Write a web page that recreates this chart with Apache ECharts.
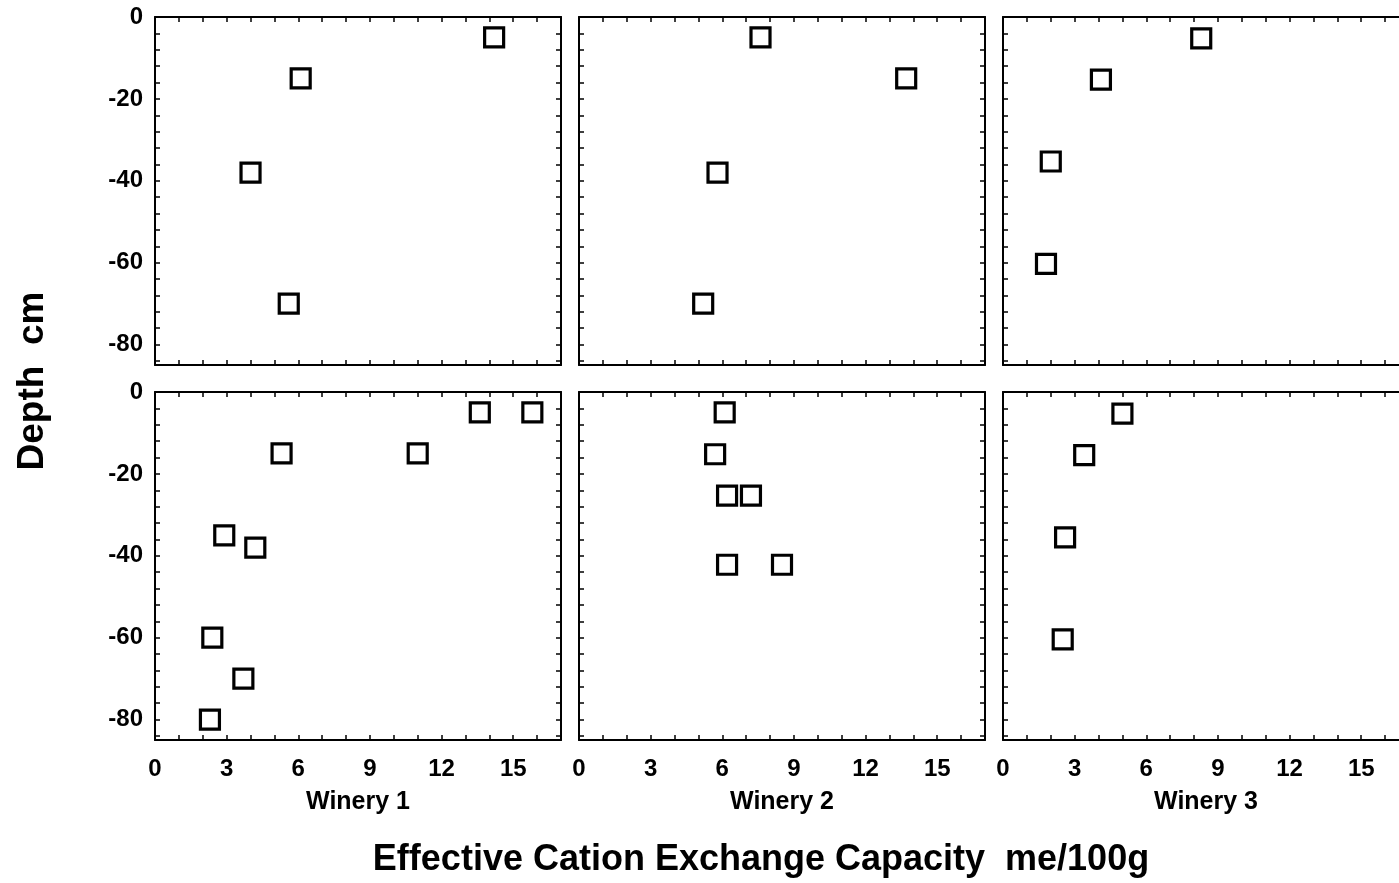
<!DOCTYPE html>
<html>
<head>
<meta charset="utf-8">
<script src="https://cdn.jsdelivr.net/npm/echarts@6/dist/echarts.min.js"></script>
<style>
html,body{margin:0;padding:0;background:#fff;}
#c{width:1399px;height:883px;}
</style>
</head>
<body>
<div id="c"></div>
<script>
// ---- data ----
const wineryNames = ['Winery 1', 'Winery 2', 'Winery 3'];
const xTitle = 'Effective Cation Exchange Capacity  me/100g';
const yTitle = 'Depth  cm';
const yTickLabels = [0, -20, -40, -60, -80];
const xTickLabels = [0, 3, 6, 9, 12, 15];

// top row: [ECEC, depth]
const top1 = [[14.2, -5], [6.1, -15], [4.0, -38], [5.6, -70]];
const top2 = [[7.6, -5], [13.7, -15], [5.8, -38], [5.2, -70]];
const top3 = [[8.3, -5.2], [4.1, -15.3], [2.0, -35.3], [1.8, -60.3]];
// bottom row
const bot1 = [[13.6, -5], [15.8, -5], [5.3, -15], [11.0, -15], [2.9, -35], [4.2, -38],
              [2.4, -60], [3.7, -70], [2.3, -80]];
const bot2 = [[6.1, -5], [5.7, -15.2], [6.2, -25.3], [7.2, -25.3], [6.2, -42.2], [8.5, -42.2]];
const bot3 = [[5.0, -5.3], [3.4, -15.4], [2.6, -35.5], [2.5, -60.4]];

const panels = [top1, top2, top3, bot1, bot2, bot3];

// ---- layout ----
const lefts = [155, 579, 1003];
const tops = [17, 392];
const W = 406, H = 348;
const FONT = '"Liberation Sans", Arial, sans-serif';

const grids = [], xAxes = [], yAxes = [], series = [];
const lineStyle = {color: '#000', width: 2};
const tickStyle = {show: true, inside: true, length: 5, lineStyle: {color: '#000', width: 1.5}};
const labelBase = {fontFamily: FONT, fontWeight: 'bold', fontSize: 24, color: '#000'};

for (let i = 0; i < 6; i++) {
  const row = Math.floor(i / 3), col = i % 3;
  grids.push({left: lefts[col], top: tops[row], width: W, height: H,
              containLabel: false, outerBoundsMode: 'none'});
}
// main axes (0..5)
for (let i = 0; i < 6; i++) {
  const row = Math.floor(i / 3), col = i % 3;
  xAxes.push({
    type: 'value', gridIndex: i, position: 'bottom', min: 0, max: 17, interval: 1,
    axisLine: {show: true, onZero: false, lineStyle},
    axisTick: tickStyle, splitLine: {show: false},
    axisLabel: Object.assign({}, labelBase, {
      show: row === 1, margin: 17, interval: 0,
      formatter: v => xTickLabels.indexOf(v) >= 0 ? String(v) : ''
    }),
    name: row === 1 ? wineryNames[col] : '',
    nameLocation: 'middle', nameGap: 50,
    nameTextStyle: {fontFamily: FONT, fontWeight: 'bold', fontSize: 25, color: '#000'}
  });
  yAxes.push({
    type: 'value', gridIndex: i, position: 'left', min: -85, max: 0,
    splitNumber: 21, minInterval: 4, maxInterval: 4,
    axisLine: {show: true, onZero: false, lineStyle},
    axisTick: tickStyle, splitLine: {show: false},
    axisLabel: Object.assign({}, labelBase, {
      show: col === 0, margin: 12,
      formatter: v => yTickLabels.indexOf(v) >= 0 ? String(v) : ''
    })
  });
}
// mirror axes (6..11) for ticks on top and right
for (let i = 0; i < 6; i++) {
  xAxes.push({
    type: 'value', gridIndex: i, position: 'top', min: 0, max: 17, interval: 1,
    axisLine: {show: true, onZero: false, lineStyle},
    axisTick: tickStyle, splitLine: {show: false}, axisLabel: {show: false}
  });
  yAxes.push({
    type: 'value', gridIndex: i, position: 'right', min: -85, max: 0,
    splitNumber: 21, minInterval: 4, maxInterval: 4,
    axisLine: {show: true, onZero: false, lineStyle},
    axisTick: tickStyle, splitLine: {show: false}, axisLabel: {show: false}
  });
}
for (let i = 0; i < 6; i++) {
  series.push({
    type: 'scatter', xAxisIndex: i, yAxisIndex: i, data: panels[i],
    symbol: 'rect', symbolSize: 19,
    itemStyle: {color: 'rgba(255,255,255,0)', borderColor: '#000', borderWidth: 3.2, opacity: 1},
    emphasis: {disabled: true}, silent: true, clip: false
  });
}

const chart = echarts.init(document.getElementById('c'), null, {renderer: 'canvas'});
chart.setOption({
  animation: false,
  backgroundColor: '#fff',
  grid: grids, xAxis: xAxes, yAxis: yAxes, series: series,
  graphic: [
    {type: 'text', x: 761, y: 860, style: {
      text: xTitle, fontFamily: FONT, fontWeight: 'bold', fontSize: 36, fill: '#000',
      align: 'center', verticalAlign: 'middle'
    }},
    {type: 'text', x: 33, y: 381, rotation: Math.PI / 2, style: {
      text: yTitle, fontFamily: FONT, fontWeight: 'bold', fontSize: 37, fill: '#000',
      align: 'center', verticalAlign: 'middle'
    }}
  ]
});
</script>
</body>
</html>
